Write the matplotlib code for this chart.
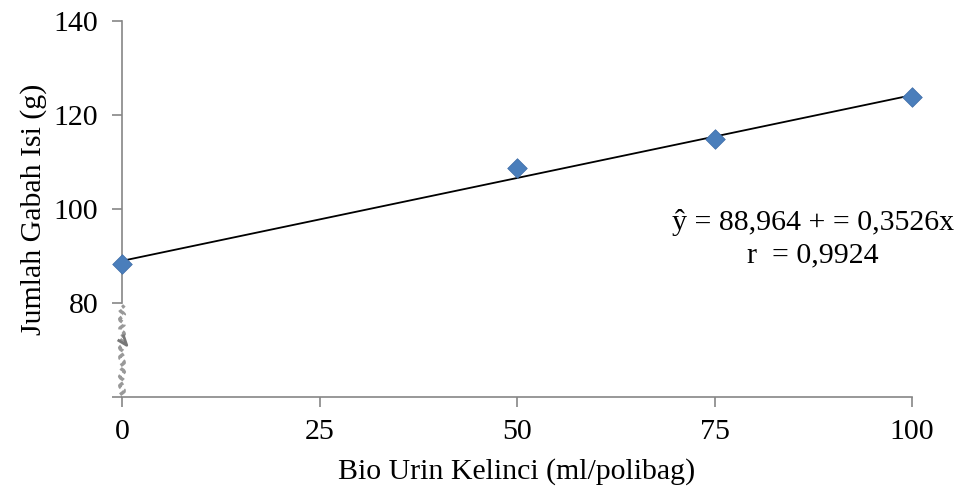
import matplotlib.pyplot as plt
import numpy as np

plt.rcParams['font.family'] = ['Liberation Serif', 'DejaVu Serif']

dose = [0, 50, 75, 100]
grain = [88.3, 108.7, 114.9, 123.8]
intercept = 88.964
slope = 0.3526
xticks = [0, 25, 50, 75, 100]
yticks = [60, 80, 100, 120, 140]
ylabels = ['', '80', '100', '120', '140']

fig = plt.figure(figsize=(9.6, 4.93), dpi=100)
ax = fig.add_axes([122/960, 1-397/493, (912-122)/960, (397-21)/493])

xs = np.array([0, 100])
ax.plot(xs, intercept + slope*xs, color='black', lw=1.3, zorder=2)
ax.scatter(dose, grain, marker='D', s=100, color='#4a7ebb', edgecolor='#3d6ca6',
           linewidth=0.5, zorder=3, clip_on=False)

ax.set_xlim(0, 100)
ax.set_ylim(60, 140)
ax.set_xticks(xticks)
ax.set_yticks(yticks)
ax.set_yticklabels(ylabels)
ax.tick_params(labelsize=21.5, color='#868686', length=7, width=1.2)
ax.tick_params(axis='y', pad=10)
ax.tick_params(axis='x', pad=9)

for s in ['top', 'right']:
    ax.spines[s].set_visible(False)
ax.spines['bottom'].set_color('#868686')
ax.spines['bottom'].set_linewidth(1.2)
# left spine only drawn above the break
ax.spines['left'].set_bounds(80, 140)
ax.spines['left'].set_color('#868686')
ax.spines['left'].set_linewidth(1.2)

# wavy axis break between 60 and 80
yb = np.linspace(60.5, 79.5, 60)
xb = 0.3*np.sin(yb*3.1)
ax.plot(xb, yb, color='#999999', lw=2.5, ls=(0, (2, 1)), clip_on=False, zorder=1)
ax.plot([-0.4, 0.6, 0.2], [72, 71, 73], color='#777777', lw=2, clip_on=False)

ax.set_ylabel('Jumlah Gabah Isi (g)', fontsize=21.5, labelpad=5)
ax.set_xlabel('Bio Urin Kelinci (ml/polibag)', fontsize=21.5, labelpad=9)

ax.text(87.5, 97.2, 'ŷ = 88,964 + = 0,3526x', fontsize=21.5, ha='center', va='center')
ax.text(87.5, 90.2, 'r  = 0,9924', fontsize=21.5, ha='center', va='center')

fig.savefig('out.png', dpi=100)
